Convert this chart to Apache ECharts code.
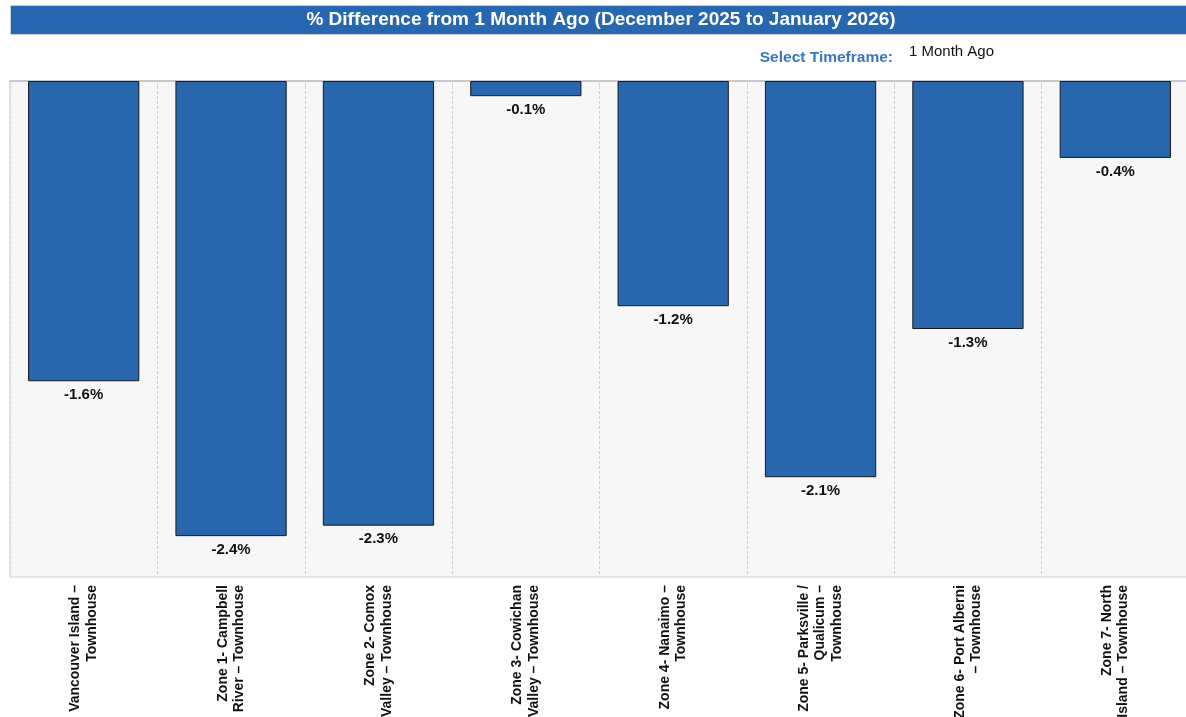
<!DOCTYPE html>
<html><head><meta charset="utf-8">
<script src="https://cdn.jsdelivr.net/npm/echarts@6/dist/echarts.min.js"></script>
<style>html,body{margin:0;padding:0;background:#fff;overflow:hidden;}#c{width:1186px;height:717px;}</style>
</head><body><div id="c"></div>
<script>
const titleText = '% Difference from 1 Month Ago (December 2025 to January 2026)';
const categories = [
  'Vancouver Island –\nTownhouse',
  'Zone 1- Campbell\nRiver – Townhouse',
  'Zone 2- Comox\nValley – Townhouse',
  'Zone 3- Cowichan\nValley – Townhouse',
  'Zone 4- Nanaimo –\nTownhouse',
  'Zone 5- Parksville /\nQualicum –\nTownhouse',
  'Zone 6- Port Alberni\n– Townhouse',
  'Zone 7- North\nIsland – Townhouse'
];
const values = [-1.58, -2.395, -2.34, -0.08, -1.185, -2.085, -1.305, -0.405];

const chart = echarts.init(document.getElementById('c'));
chart.setOption({
  animation: false,
  textStyle: {fontFamily: 'Liberation Sans, Arial, sans-serif'},
  graphic: [
    {type: 'rect', left: 10, top: 5, shape: {width: 1190, height: 29},
     style: {fill: '#2767B0', stroke: '#d0d0d0', lineWidth: 1}},
    {type: 'text', x: 601, y: 20, style: {text: titleText, fill: '#fff', font: 'bold 19px "Liberation Sans", Arial, sans-serif', align: 'center', verticalAlign: 'middle'}},
    {type: 'text', x: 893, y: 58, style: {text: 'Select Timeframe:', fill: '#3A76C0', font: 'bold 15.5px "Liberation Sans", Arial, sans-serif', align: 'right', verticalAlign: 'middle'}},
    {type: 'text', x: 909, y: 52, style: {text: '1 Month Ago', fill: '#111', font: '15px "Liberation Sans", Arial, sans-serif', align: 'left', verticalAlign: 'middle'}}
  ],
  grid: {left: 10, top: 81, width: 1179, height: 496, show: true, backgroundColor: '#F7F7F7', borderColor: '#cfcfcf', borderWidth: 1, containLabel: false, outerBoundsMode: 'none'},
  xAxis: {
    type: 'category', data: categories,
    axisLine: {show: true, lineStyle: {color: '#c8c8c8', width: 2}},
    axisTick: {show: true, length: 5, interval: 0, lineStyle: {color: '#d8d8d8'}},
    splitLine: {show: true, interval: 0, lineStyle: {color: '#d0d0d0', type: [3, 2], width: 1}},
    axisLabel: {interval: 0, rotate: 90, margin: 8, color: '#111', fontWeight: 'bold', fontSize: 14, lineHeight: 16.5, fontFamily: 'Liberation Sans, Arial, sans-serif'}
  },
  yAxis: {type: 'value', min: -2.61, max: 0, show: false, splitLine: {show: false}},
  series: [{
    type: 'bar', data: values, barWidth: '75.5%',
    itemStyle: {color: '#2866AE', borderColor: '#1a1a1a', borderWidth: 1},
    label: {show: true, position: 'bottom', distance: 6, color: '#111', fontWeight: 'bold', fontSize: 15,
      formatter: p => p.value.toFixed(1) + '%'}
  }]
});
</script></body></html>
